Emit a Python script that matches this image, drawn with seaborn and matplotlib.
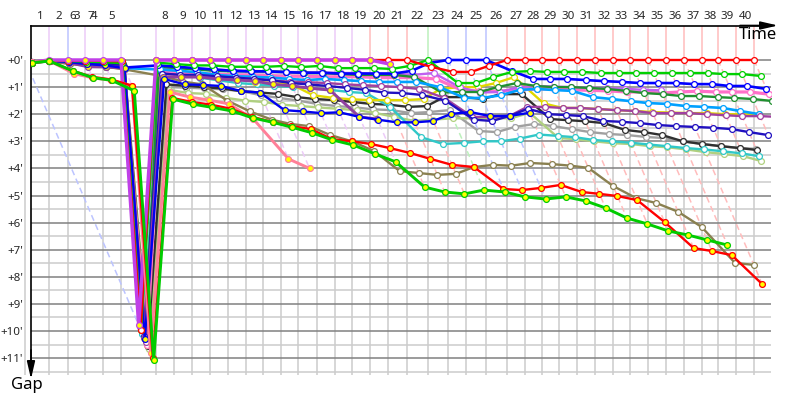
import numpy as np
import pandas as pd
import seaborn as sns
import matplotlib.pyplot as plt

# leader time at the end of each lap (minutes), index 6 is the odd restart lap
leader_time = [0.00, 1.55, 3.18, 4.64, 6.19, 7.74, -0.52, 10.75, 12.30, 13.84, 15.39, 16.94, 18.49, 19.95,
               21.50, 22.96, 24.59, 26.14, 27.60, 29.15, 30.70, 32.33, 34.14, 35.86, 37.40, 39.12, 40.93,
               42.48, 43.94, 45.40, 46.95, 48.50, 50.04, 51.50, 53.05, 54.60, 56.15, 57.70, 59.07, 60.62, 62.17]
lap_labels = [str(i) for i in range(1, 41)]
gap_labels = ["+%d'" % i for i in range(12)]

# who led each lap, only used for the tint of the lap lines
lap_leader = ["p", "p", "b", "p", "p", "p", "b", "p", "p", "p", "p", "p", "p", "p", "p", "p", "p", "p", "p",
              "r", "r", "r", "g", "b", "b", "b", "r", "r", "r", "r", "r", "r", "r", "r", "r", "r", "r", "r", "r", "r", "r"]

# gap to the leader per lap (minutes), nan = no point on that lap
red_white = [.08, .03, .03, .03, .03, .05, 9.95, 0, 0, 0, 0, 0, 0, 0, 0, 0, 0, 0, 0, 0, 0, 0, .25, .44, .44, .22,
             0, 0, 0, 0, 0, 0, 0, 0, 0, 0, 0, 0, 0, 0, 0]
olive = [.1, .05, .15, .2, .25, .35, np.nan, .6, .8, .9, 1.5, 1.9, 2.2, 2.36, 2.44, 2.77, 3.0, 3.36, 4.1, 4.17, 4.24,
         4.2, 3.95, 3.87, 3.9, 3.8, 3.84, 3.9, 3.98, 4.65, 5.1, 5.28, 5.6, 6.16, 7.49, 7.56]
silver = [.1, .05, .12, .2, .25, .3, 10.6, 1.0, 1.02, 1.05, 1.08, 1.15, 1.3, 1.4, 1.5, 1.62, 1.7, 1.75, 1.82, 1.85,
          1.96, 1.92, 1.85, 2.62, 2.66, 2.47, 2.36, 2.44, 2.55, 2.66, 2.73, 2.77, 2.84, 2.88, 3.0, 3.1, 3.18, 3.25, 3.28]
light_green = [.1, .05, .12, .18, .25, .3, 10.65, 1.1, 1.22, 1.25, 1.4, 1.5, 1.55, 1.65, 1.7, 1.75, 1.8, 1.85, 1.95,
               2.1, 2.25, 2.2, 2.15, 2.15, 2.15, 2.15, 1.95, 2.88, 2.92, 3.0, 3.07, 3.1, 3.18, 3.22, 3.3, 3.4, 3.47, 3.55, 3.73]
cyan = [.08, .04, .1, .15, .2, .25, 10.1, .42, .5, .65, .75, .85, .9, .95, 1.0, 1.05, 1.1, 1.18, 1.22, 1.73, 2.85,
        3.1, 3.06, 3.0, 3.0, 2.9, 2.75, 2.8, 2.85, 2.95, 3.0, 3.05, 3.12, 3.18, 3.25, 3.3, 3.37, 3.45, 3.55]
black = [.1, .05, .1, .15, .22, .28, 10.55, .9, .95, 1.0, 1.05, 1.15, 1.2, 1.25, 1.37, 1.44, 1.48, 1.55, 1.62, 1.65,
         1.73, 1.7, 1.37, 1.37, 1.44, 1.26, 1.26, 2.18, 2.22, 2.26, 2.33, 2.58, 2.66, 2.77, 3.0, 3.1, 3.18, 3.25, 3.32]
yellow = [.08, .04, .08, .12, .18, .22, 10.5, .35, .45, .5, .6, .7, .8, .85, .9, 1.3, 1.4, 1.45, 1.48, 1.48, 1.48,
          1.44, 1.07, 1.0, 1.0, .85, .63, 1.6, 1.77, 1.77, 1.81, 1.85, 1.88, 1.92, 1.94, 1.96, 1.96, 2.0, 2.0, 2.0]
purple_white = [.08, .04, .07, .1, .15, .2, 10.4, .5, .55, .6, .62, .65, .7, .75, .8, .82, .85, .9, .93, .96, 1.0,
                1.07, 1.4, 2.1, 2.1, 2.06, 1.73, 1.73, 1.77, 1.77, 1.81, 1.85, 1.88, 1.96, 1.96, 1.96, 2.0, 2.04, 2.07, 2.07, 2.1]
dark_blue = [.08, .04, .06, .1, .14, .18, 10.2, .5, .55, .55, .6, .65, .7, .75, .85, .9, .96, 1.03, 1.1, 1.2, 1.22,
             1.29, 1.5, 2.2, 2.25, 2.06, 1.8, 2.0, 2.03, 2.07, 2.25, 2.28, 2.33, 2.4, 2.44, 2.47, 2.5, 2.55, 2.66, 2.77]
pink_white = [.08, .03, .06, .08, .1, .14, 10.5, .45, .48, .5, .52, .55, .55, .58, .6, .6, .62, .62, .62, .65, .65,
              .65, .7, 1.1, 1.15, 1.15, 1.1, 1.07, 1.07, 1.1, 1.12, 1.14, 1.18, 1.18, 1.22, 1.18, 1.15, 1.18, 1.18, 1.18, 1.26]
orchid = [.08, .03, .05, .06, .08, .1, 9.85, .28, .3, .32, .35, .38, .4, .42, .44, .45, .46, .48, .48, .5, .5, .55,
          .48, 1.0, 1.2, 1.18, 1.0, .96, .98, 1.0, 1.02, 1.04, 1.06, 1.1, 1.12]
azure = [.08, .03, .03, .05, .2, .3, np.nan, .35, .4, .45, .55, .6, .62, .65, .7, .74, .7, .74, .78, .81, .81, .81,
         1.0, 1.4, 1.4, 1.3, 1.1, 1.07, 1.11, 1.14, 1.37, 1.44, 1.52, 1.59, 1.62, 1.7, 1.73, 1.77, 1.88, 2.0]
dark_green = [.08, .03, .05, .08, .1, .14, 10.3, .25, .3, .35, .4, .42, .42, .42, .44, .48, .48, .52, .55, .55, .55,
              .63, 1.2, 1.18, 1.18, 1.0, .85, .96, 1.0, 1.0, 1.03, 1.07, 1.14, 1.22, 1.26, 1.33, 1.33, 1.37, 1.4, 1.44, 1.51]
green_white = [.08, .03, .04, .06, .08, .12, 9.98, .1, .15, .2, .2, .25, .25, .25, .22, .26, .22, .3, .3, .3, .33,
               .22, 0, .85, .85, .63, .44, .41, .44, .44, .44, .48, .48, .48, .48, .48, .48, .48, .52, .52, .59]
blue_white = [.08, .03, .04, .1, .2, .28, np.nan, .2, .25, .3, .35, .4, .42, .42, .45, .47, .47, .5, .5, .5, .5, .4,
              .11, 0, 0, 0, .4, .7, .7, .7, .74, .78, .81, .85, .85, .85, .89, .89, .96, .96, 1.07]
purple_yellow = [.08, .03, .1, .25, .26, .3, 10.25, .62, .63, .63, .7, .74, .78, .9, .96, 1.04, 1.11, 2.1, 2.18]
blue_yellow = [.08, .03, .08, .15, .2, .3, 10.3, .7, .9, .92, .96, 1.15, 1.2, 1.85, 1.9, 1.96, 1.93, 2.1, 2.2, 2.3,
               2.3, 2.25, 1.99, 1.92, 2.07, 2.06, 1.95]
pink_yellow = [.08, .03, .5, .66, .75, .95, 10.8, 1.18, 1.37, 1.48, 1.62, 2.18, 3.65, 4.0]
red_yellow = [.1, .04, .4, .62, .72, .95, 11.0, 1.4, 1.55, 1.65, 1.8, 2.1, 2.29, 2.44, 2.55, 2.92, 3.0, 3.1, 3.25,
              3.43, 3.65, 3.87, 3.95, 4.76, 4.8, 4.72, 4.61, 4.87, 4.94, 5.02, 5.17, 5.98, 6.94, 7.05, 7.2, 8.27]
green_yellow = [.1, .04, .4, .65, .75, 1.14, 11.07, 1.44, 1.63, 1.75, 1.88, 2.14, 2.3, 2.48, 2.69, 2.95, 3.14, 3.47,
                3.76, 4.69, 4.87, 4.94, 4.8, 4.87, 5.05, 5.13, 5.05, 5.2, 5.46, 5.83, 6.05, 6.31, 6.46, 6.64, 6.83]
purple_top = [.08, 0, 0, 0, 0, 0, 9.78, 0, 0, 0, 0, 0, 0, 0, 0, 0, 0, 0, 0, 0, .15]

# series, line colour, marker face, line width
cars = [
    (silver, "#a0a0a0", "white", 1.7),
    (light_green, "#b0d080", "white", 1.7),
    (black, "#303030", "white", 1.7),
    (cyan, "#30c8c8", "white", 1.7),
    (yellow, "#e0d800", "white", 1.7),
    (pink_white, "#ff70c8", "white", 2.3),
    (orchid, "#c060f0", "white", 1.7),
    (dark_green, "#209030", "white", 1.7),
    (olive, "#8a8050", "white", 1.7),
    (azure, "#00a0ff", "white", 1.9),
    (blue_white, "#0000ff", "white", 1.9),
    (purple_white, "#a040a0", "white", 1.7),
    (dark_blue, "#2010c0", "white", 1.7),
    (purple_yellow, "#9040a0", "#ffff00", 2.1),
    (blue_yellow, "#0000f0", "#ffff00", 1.7),
    (green_white, "#00d000", "white", 1.7),
    (red_white, "#ff0000", "white", 1.7),
    (purple_top, "#c040e8", "#ffff00", 2.5),
    (pink_yellow, "#ff8098", "#ffff00", 2.1),
    (red_yellow, "#ff0000", "#ffff00", 1.7),
    (green_yellow, "#00cc00", "#ffff00", 2.1),
]

sns.set_style("white")
plt.rcParams["font.family"] = ["Noto Sans", "DejaVu Sans"]

fig = plt.figure(figsize=(8, 4), dpi=100)
# full pixel layout of the plot box
ax = fig.add_axes([31 / 800, 1 - 375 / 400, 740 / 800, 349.3 / 400])
ax.set_xlim(0, 740 / 11.63)
ax.set_ylim(315 / 27.1, -34.3 / 27.1)

tints = {"p": "#eccbf8", "r": "#ffbcbc", "g": "#bcf0bc", "b": "#bcc4ff"}
times = np.array(leader_time)
bottom = ax.get_ylim()[0]

# grid, the lap 6 line sits left of the axis on purpose
for v in np.arange(0.5, 12, 1):
    ax.axhline(v, color="#cccccc", lw=1.1, zorder=1)
for v in range(12):
    ax.axhline(v, color="#808080", lw=1.1, zorder=1.2)
ax.vlines(times[1:], 0, bottom, color="#cccccc", lw=1.1, zorder=1.1, clip_on=False)

# lap lines, straight up to the top axis, then slanted down to the last car on that lap
all_gaps = [c[0] for c in cars]
for i, t in enumerate(leader_time):
    last = np.nanmax([g[i] for g in all_gaps if len(g) > i])
    col = tints[lap_leader[i]]
    if i > 0:
        ax.vlines(t, ax.get_ylim()[1], 0, color=col, lw=1.1, zorder=1.3)
    ax.plot([t, t + last], [0, last], color=col, lw=1.1, ls=(0, (4, 2.5)), zorder=1.4)

for n, (gaps, col, face, lw) in enumerate(cars):
    g = np.array(gaps, dtype=float)
    df = pd.DataFrame({"time": times[:len(g)] + g, "gap": g}).dropna()
    sns.lineplot(data=df, x="time", y="gap", ax=ax, sort=False, estimator=None, color=col, lw=lw,
                 marker="o", ms=4.2, mfc=face, mec=col, mew=0.9, solid_joinstyle="miter", zorder=3 + n * 0.1)

ax.xaxis.tick_top()
ax.set_xticks((times[:-1] + times[1:]) / 2, lap_labels)
ax.set_yticks(range(12), gap_labels)
ax.tick_params(axis="x", length=0, pad=2.5, labelsize=8.3)
ax.tick_params(axis="y", length=0, pad=5.5, labelsize=8.3)
ax.set_xlabel("")
ax.set_ylabel("")

for side in ["right", "bottom"]:
    ax.spines[side].set_visible(False)
for side in ["top", "left"]:
    ax.spines[side].set_color("black")
    ax.spines[side].set_linewidth(1.2)

# axis arrows and names
arrow = dict(arrowstyle="-|>,head_length=1.3,head_width=0.3", color="black", lw=1.2, mutation_scale=8,
             shrinkA=0, shrinkB=0)
ax.annotate("", xy=(778, 374.5), xytext=(740, 374.5), xycoords="figure pixels", textcoords="figure pixels", arrowprops=arrow)
ax.annotate("", xy=(31, 21), xytext=(31, 50), xycoords="figure pixels", textcoords="figure pixels", arrowprops=arrow)
fig.text(777 / 800, 1 - 35 / 400, "Time", ha="right", va="center", fontsize=12, color="black")
fig.text(11 / 800, 1 - 385 / 400, "Gap", ha="left", va="center", fontsize=12, color="black")

fig.savefig("out.png", dpi=100)
